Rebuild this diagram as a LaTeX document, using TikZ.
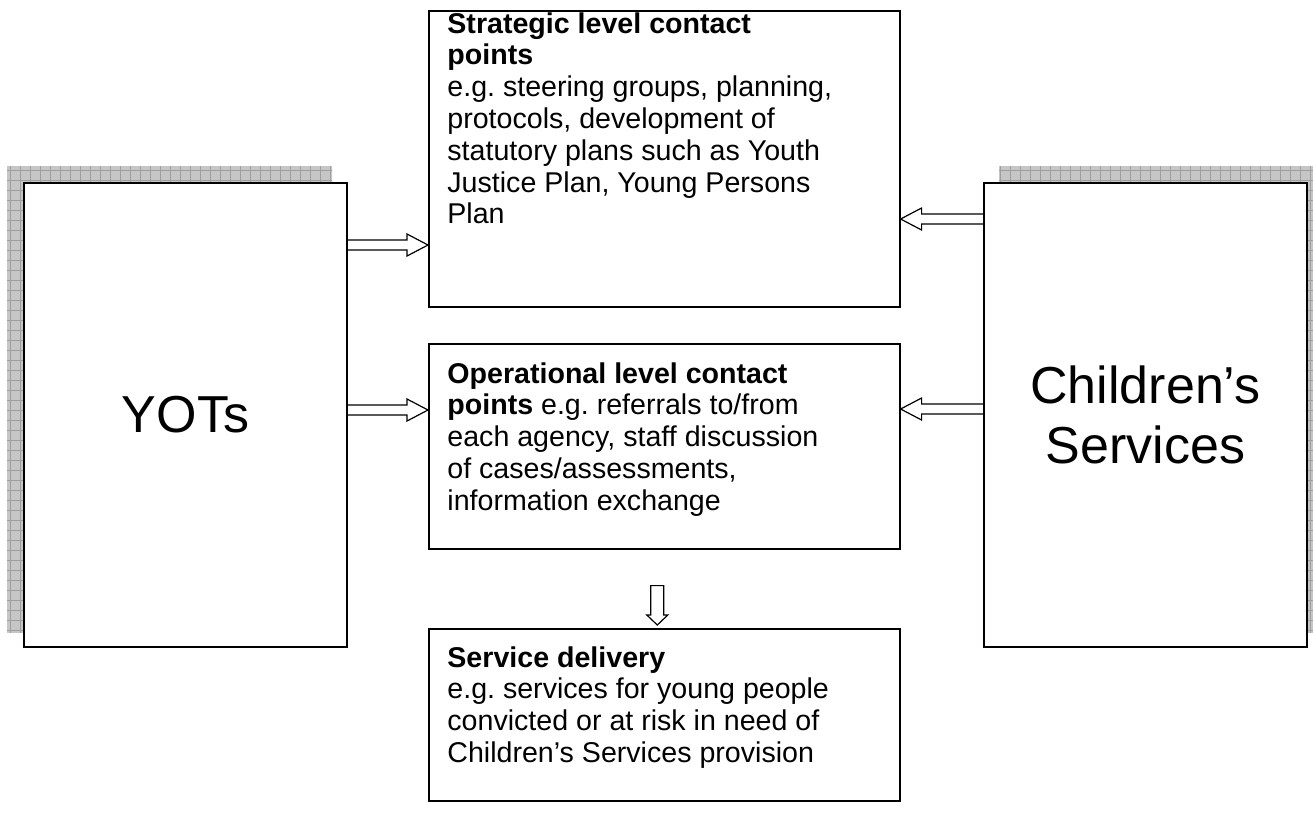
\documentclass[tikz,border=0pt]{standalone}
\usepackage{fontspec}
\setmainfont{Liberation Sans}
\usetikzlibrary{positioning,calc,backgrounds}
\frenchspacing

\tikzset{
  bigbox/.style={draw,line width=1pt,fill=white,anchor=north west,inner sep=0pt,
    minimum width=161.5pt,minimum height=232pt,align=center,font=\fontsize{26}{30}\selectfont},
  midbox/.style={draw,line width=0.8pt,anchor=north west,inner sep=0pt,minimum width=235.5pt},
  boxtext/.style={anchor=north west,inner sep=0pt,align=left,font=\fontsize{14.3}{15.9}\selectfont},
  hollowh/.style={line width=0.6pt,to path={let \p1=(\tikztostart), \p2=(\tikztotarget), \n1={sign(\x2-\x1)} in
    (\x1,{\y1+2.5pt}) -- ({\x2-(\n1)*10.5pt},{\y1+2.5pt}) -- ({\x2-(\n1)*10.5pt},{\y1+5.5pt})
    -- (\x2,\y1) -- ({\x2-(\n1)*10.5pt},{\y1-5.5pt}) -- ({\x2-(\n1)*10.5pt},{\y1-2.5pt}) -- (\x1,{\y1-2.5pt})}},
  hollowv/.style={line width=0.6pt,to path={let \p1=(\tikztostart), \p2=(\tikztotarget), \n1={sign(\y2-\y1)} in
    ({\x1+3.25pt},\y1) -- ({\x1+3.25pt},{\y2-(\n1)*5pt}) -- ({\x1+5.25pt},{\y2-(\n1)*5pt})
    -- (\x1,\y2) -- ({\x1-5.25pt},{\y2-(\n1)*5pt}) -- ({\x1-3.25pt},{\y2-(\n1)*5pt}) -- ({\x1-3.25pt},\y1) -- cycle}}
}

\begin{document}
\begin{tikzpicture}[x=0.5pt,y=-0.5pt]
\useasboundingbox (0,0) rectangle (1313,832);

% side boxes
\node[bigbox] (yots) at (23,182) {YOTs};
\node[bigbox] (cs) at (983,182) {Children’s\\Services};

% middle boxes
\node[midbox,minimum height=148pt] (strat) at (428,10) {};
\node[midbox,minimum height=102.5pt] (ops) at (428,343) {};
\node[midbox,minimum height=86pt] (svc) at (428,628) {};

\node[boxtext,below right=1pt and 9.5pt of strat.north west] (strattxt) {\textbf{Strategic level contact}\\
  \textbf{points}\\
  e.g. steering groups, planning,\\
  protocols, development of\\
  statutory plans such as Youth\\
  Justice Plan, Young Persons\\
  Plan};
\node[boxtext,below right=9.5pt and 9.5pt of ops.north west] (opstxt) {\textbf{Operational level contact}\\
  \textbf{points} e.g. referrals to/from\\
  each agency, staff discussion\\
  of cases/assessments,\\
  information exchange};
\node[boxtext,below right=9pt and 9.5pt of svc.north west] (svctxt) {\textbf{Service delivery}\\
  e.g. services for young people\\
  convicted or at risk in need of\\
  Children’s Services provision};

% arrows
\draw[hollowh] ([yshift=85pt]yots.east) to (strat.west);
\draw[hollowh] ([yshift=98pt]cs.west) to (strat.east);
\draw[hollowh] ([yshift=2.5pt]yots.east) to (ops.west);
\draw[hollowh] ([yshift=3pt]cs.west) to (ops.east);
\draw[hollowv] ([xshift=-3.5pt,yshift=-18pt]ops.south) to ([yshift=1.5pt]svc.north);

% shadows
\begin{scope}[on background layer]
\foreach \b/\dx in {yots/-8pt,cs/8pt}{
  \begin{scope}
    \clip ([shift={(\dx,8pt)}]\b.south west) rectangle ([shift={(\dx,8pt)}]\b.north east);
    \fill[gray!45] (0,0) rectangle (1313,832);
    \draw[gray!75,line width=0.5pt,step=5pt] (0,0) grid (1313,832);
  \end{scope}
}
\end{scope}
\end{tikzpicture}
\end{document}
